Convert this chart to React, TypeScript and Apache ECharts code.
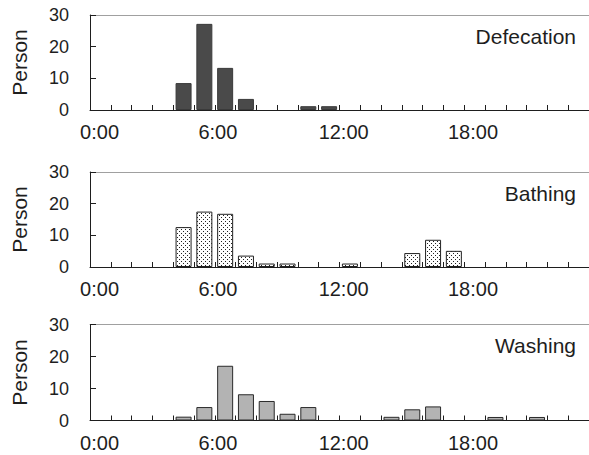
import React, { useEffect, useRef } from "react";
import * as echarts from "echarts";

// ---- data ----
const HOURS = [0, 1, 2, 3, 4, 5, 6, 7, 8, 9, 10, 11, 12, 13, 14, 15, 16, 17, 18, 19, 20, 21, 22, 23];
const PANEL_NAMES = ["Defecation", "Bathing", "Washing"];
const DEFECATION = [0, 0, 0, 0, 8.5, 27.2, 13.3, 3.5, 0, 0, 1.2, 1.2, 0, 0, 0, 0, 0, 0, 0, 0, 0, 0, 0, 0];
const BATHING = [0, 0, 0, 0, 12.6, 17.5, 16.8, 3.6, 1.1, 1.1, 0, 0, 1.1, 0, 0, 4.4, 8.6, 5.1, 0, 0, 0, 0, 0, 0];
const WASHING = [0, 0, 0, 0, 1.2, 4.2, 17.1, 8.2, 6.1, 2.1, 4.2, 0, 0, 0, 1.15, 3.5, 4.4, 0, 0, 1.1, 0, 1.1, 0, 0];
const TIME_LABELS = ["0:00", "6:00", "12:00", "18:00"];
const TIME_LABEL_HOURS = [0, 6, 12, 18];
const Y_TITLE = "Person";

// ---- layout / style ----
const LABEL_NUDGE = [0.46, 0.15, 0.2, 0.42];
const GRID_TOPS = [15, 172, 324.5];
const GRID_HEIGHTS = [95, 95, 96];
const GRID_LEFT = 90;
const GRID_WIDTH = 501;
const FONT = '"Liberation Sans", Arial, Helvetica, sans-serif';
const INK = "#1e1e1e";

export default function App() {
  const ref = useRef<HTMLDivElement>(null);
  useEffect(() => {
    if (!ref.current) return;
    const chart = echarts.init(ref.current, undefined, { renderer: "svg" });

    const pc = document.createElement("canvas");
    pc.width = 4;
    pc.height = 4;
    const ctx = pc.getContext("2d")!;
    ctx.fillStyle = "#ffffff";
    ctx.fillRect(0, 0, 4, 4);
    ctx.fillStyle = "#222222";
    ctx.fillRect(1, 1, 1, 1);
    ctx.fillRect(3, 3, 1, 1);

    const datasets = [DEFECATION, BATHING, WASHING];
    const fills: any[] = ["#4a4a4a", { image: pc, repeat: "repeat" }, "#b3b3b3"];
    const borders = ["#3a3a3a", "#222222", "#2a2a2a"];

    const labelValues = TIME_LABEL_HOURS.map((h, i) => h + LABEL_NUDGE[i]);
    const labelFor = (v: number) => {
      let best = 0;
      labelValues.forEach((lv, i) => {
        if (Math.abs(lv - v) < Math.abs(labelValues[best] - v)) best = i;
      });
      return TIME_LABELS[best];
    };

    const grid: any[] = [];
    const xAxis: any[] = [];
    const yAxis: any[] = [];
    const series: any[] = [];
    const title: any[] = [];

    PANEL_NAMES.forEach((name, i) => {
      grid.push({ left: GRID_LEFT, top: GRID_TOPS[i], width: GRID_WIDTH, height: GRID_HEIGHTS[i] });
      xAxis.push({
        type: "category",
        gridIndex: i,
        data: HOURS,
        boundaryGap: true,
        position: "bottom",
        axisLine: { show: true, lineStyle: { color: INK, width: 1 } },
        axisTick: { show: false },
        axisLabel: { show: false },
        splitLine: { show: false },
      });
      xAxis.push({
        type: "value",
        gridIndex: i,
        min: 0,
        max: 24,
        interval: 1,
        position: "bottom",
        axisLine: { show: false },
        axisTick: { show: true, inside: true, length: 5, lineStyle: { color: INK, width: 1 } },
        splitLine: { show: false },
        axisLabel: {
          customValues: labelValues,
          formatter: (v: number) => labelFor(v),
          fontSize: 20,
          margin: 12,
          color: INK,
          fontFamily: FONT,
        },
      });
      xAxis.push({
        type: "value",
        gridIndex: i,
        min: 0,
        max: 24,
        position: "top",
        axisLine: { show: true, lineStyle: { color: "#a0a0a0", width: 1 } },
        axisTick: { show: false },
        axisLabel: { show: false },
        splitLine: { show: false },
      });
      yAxis.push({
        type: "value",
        gridIndex: i,
        min: 0,
        max: 30,
        interval: 10,
        axisLine: { show: true, lineStyle: { color: INK, width: 1 } },
        axisTick: { show: true, inside: true, length: 6, lineStyle: { color: INK } },
        axisLabel: { fontSize: 18, margin: 21, color: INK, fontFamily: FONT },
        splitLine: { show: false },
        name: Y_TITLE,
        nameLocation: "middle",
        nameRotate: 90,
        nameGap: 60,
        nameTextStyle: { fontSize: 21, color: INK, fontFamily: FONT },
      });
      series.push({
        type: "bar",
        xAxisIndex: 3 * i,
        yAxisIndex: i,
        data: datasets[i].map((v) => (v > 0 ? v : "-")),
        barWidth: 16,
        itemStyle: { color: fills[i], borderColor: borders[i], borderWidth: 1 },
      });
      title.push({
        text: name,
        right: 13,
        top: GRID_TOPS[i] + 10.5,
        padding: 0,
        textStyle: { fontSize: 21, fontWeight: "normal", color: INK, fontFamily: FONT },
      });
    });

    chart.setOption({
      animation: false,
      backgroundColor: "#ffffff",
      grid,
      xAxis,
      yAxis,
      series,
      title,
    });
    return () => chart.dispose();
  }, []);
  return (
    <div
      ref={ref}
      style={{ position: "absolute", left: 0, top: 0, width: 589, height: 455 }}
    />
  );
}
